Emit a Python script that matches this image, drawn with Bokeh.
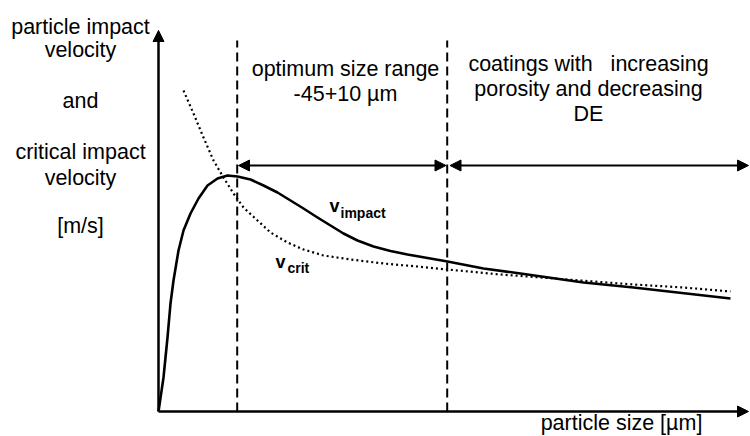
from bokeh.plotting import figure
from bokeh.models import Arrow, NormalHead, Label, Range1d
from bokeh.embed import file_html
from bokeh.resources import INLINE

# ---- schematic data (arbitrary units) ----
size_impact = [0.0, 0.5, 0.9, 1.2, 1.5, 2.0, 2.5, 3.2, 4.0, 4.9, 5.9, 6.9, 7.9,
               9.2, 10.5, 11.9, 13.2, 14.5, 15.9, 17.2, 18.5, 19.9, 21.5, 23.2,
               24.9, 26.9, 28.9, 32.5, 36.2, 42.5, 47.5, 51.9, 57.2]
v_impact = [0.0, 3.4, 7.4, 10.8, 13.1, 16.1, 18.1, 19.8, 21.3, 22.6, 23.3, 23.6, 23.5,
            23.2, 22.6, 21.9, 21.1, 20.3, 19.4, 18.6, 17.8, 17.1, 16.5, 16.05,
            15.7, 15.35, 15.0, 14.3, 13.8, 12.9, 12.4, 11.9, 11.3]

size_crit = [2.5, 3.5, 4.5, 5.5, 6.5, 7.5, 8.5, 9.9, 11.2, 12.9, 14.5, 16.5, 19.2,
             22.5, 25.9, 28.9, 34.2, 40.9, 47.5, 52.5, 57.2]
v_crit = [32.1, 29.8, 27.4, 25.1, 23.4, 21.8, 20.4, 19.1, 17.9, 16.9, 16.2, 15.6, 15.2,
          14.8, 14.5, 14.2, 13.7, 13.2, 12.7, 12.4, 12.0]

boundaries = [7.87, 28.87]  # optimum size range limits

FONT = "Liberation Sans"

p = figure(width=750, height=436, x_range=Range1d(-15.8, 59.2), y_range=Range1d(-2.5, 41.1),
           output_backend="svg", toolbar_location=None,
           x_axis_location=None, y_axis_location=None, min_border=0,
           outline_line_color=None, background_fill_color="white",
           border_fill_color="white")
p.grid.visible = False

# dashed boundaries
p.segment(x0=boundaries, y0=[0, 0], x1=boundaries, y1=[37.1, 37.1],
          line_color="black", line_width=2, line_dash="9 5")

# curves
p.line(size_impact, v_impact, line_color="black", line_width=2.6, line_join="round")
p.line(size_crit, v_crit, line_color="black", line_width=2.2, line_dash="2 3")

# axes with arrows
def head():
    return NormalHead(size=11, fill_color="black", line_color="black", line_width=1)

p.add_layout(Arrow(x_start=0, y_start=0, x_end=0, y_end=38.1, end=head(),
                   line_width=2.5, line_color="black"))
p.add_layout(Arrow(x_start=0, y_start=0, x_end=59.0, y_end=0, end=head(),
                   line_width=2.5, line_color="black"))

# double arrows
p.add_layout(Arrow(x_start=8.0, y_start=24.6, x_end=28.75, y_end=24.6,
                   start=head(), end=head(), line_width=2, line_color="black"))
p.add_layout(Arrow(x_start=29.15, y_start=24.6, x_end=59.0, y_end=24.6,
                   start=head(), end=head(), line_width=2, line_color="black"))

def lab(x, y, t, size="21.5px", align="center", style="normal"):
    p.add_layout(Label(x=x, y=y, text=t, text_align=align, text_baseline="middle",
                       text_font=FONT, text_font_size=size, text_font_style=style,
                       text_color="black"))

# y-axis title block
lab(-7.8, 38.5, "particle impact")
lab(-7.8, 36.2, "velocity")
lab(-7.8, 31.1, "and")
lab(-7.8, 26.0, "critical impact")
lab(-7.8, 23.4, "velocity")
lab(-7.8, 18.6, "[m/s]")

# region annotations
lab(18.7, 34.3, "optimum size range")
lab(18.7, 31.8, "-45+10 µm")
lab(43.0, 34.8, "coatings with\u00a0\u00a0 increasing")
lab(43.0, 32.3, "porosity and decreasing")
lab(43.0, 29.8, "DE")

# x-axis title
lab(46.3, -1.15, "particle size [µm]")

# curve labels
lab(17.6, 20.6, "v", size="18px", style="bold")
lab(18.2, 19.9, "impact", size="14px", align="left", style="bold")
lab(12.2, 15.0, "v", size="18px", style="bold")
lab(12.9, 14.4, "crit", size="14px", align="left", style="bold")

open("out.html", "w").write(file_html(p, INLINE))
